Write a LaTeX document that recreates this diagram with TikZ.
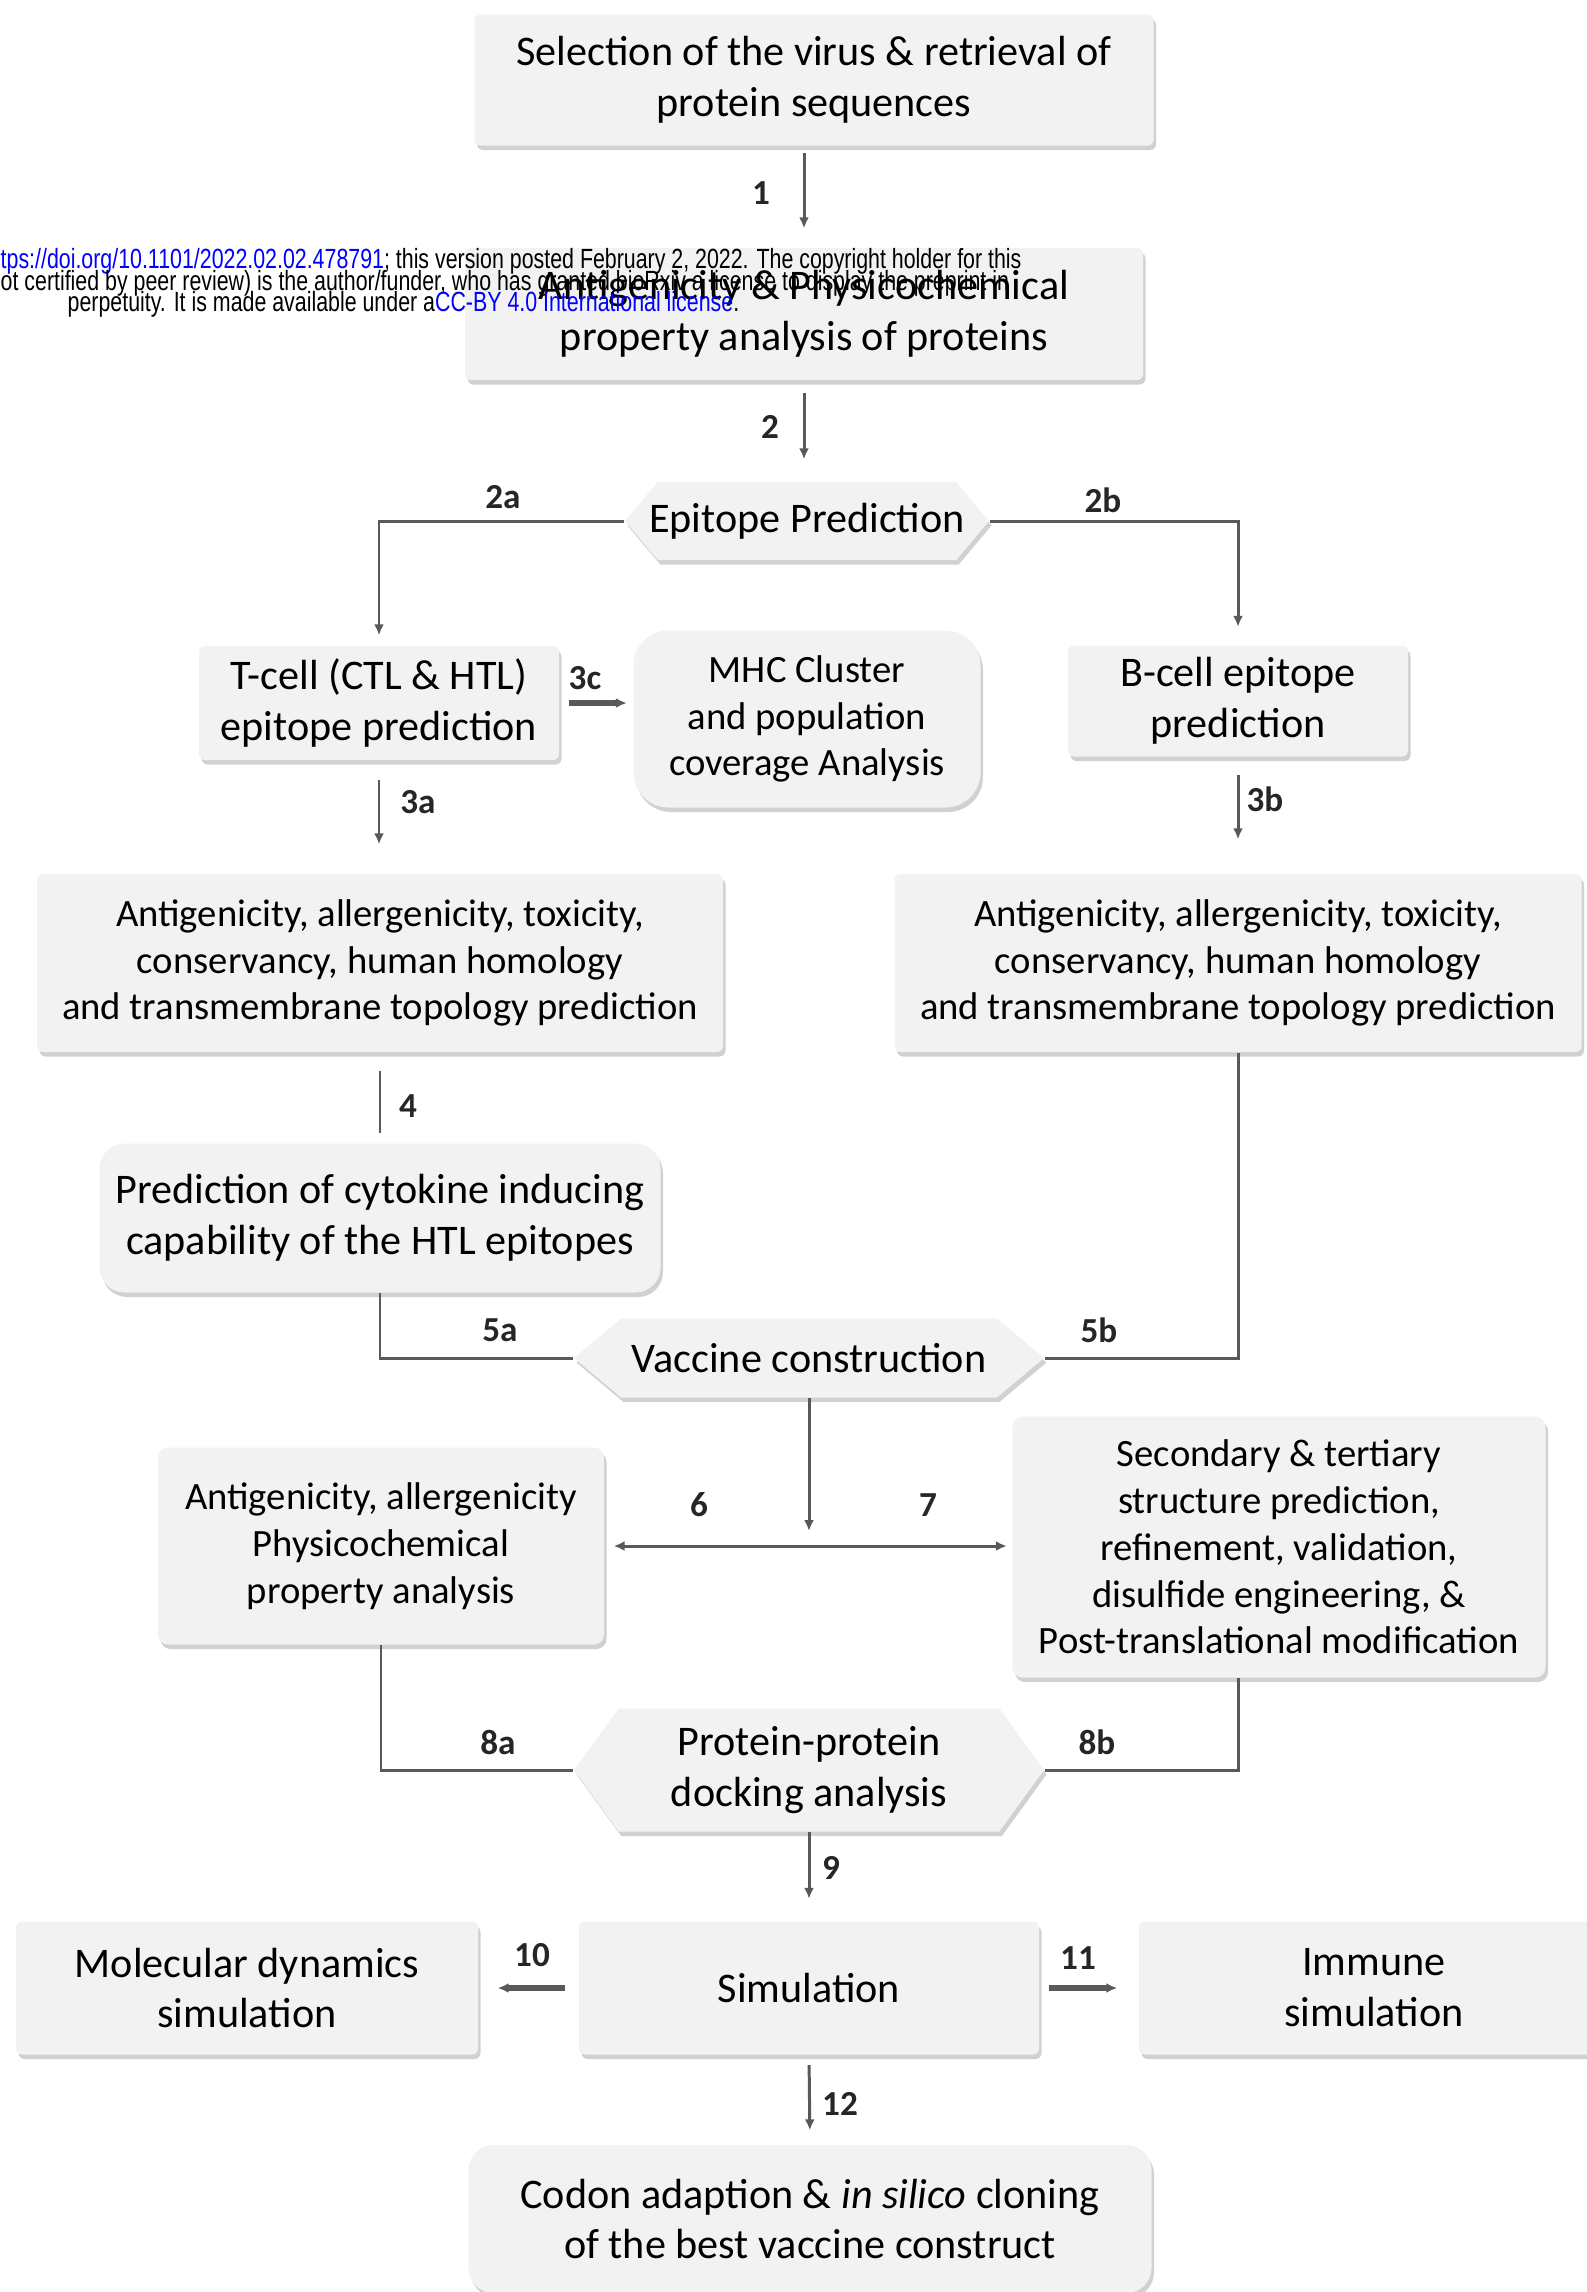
\documentclass[tikz,border=0pt]{standalone}
\usepackage{fontspec}
\setmainfont{Carlito}
\newfontfamily\stampfont{Liberation Sans}
\usetikzlibrary{arrows.meta,shapes.symbols,shadows,positioning}
\definecolor{boxgray}{HTML}{F2F2F2}
\definecolor{linegray}{HTML}{595959}
\definecolor{linkblue}{HTML}{0000FF}

\begin{document}
\begin{tikzpicture}[
    % GLOBAL CFG
    x=0.1mm, y=-0.1mm,
    font=\fontsize{12}{14.5}\selectfont,
    >={Latex[length=1.1mm,width=1mm]},
    % Styles
    stepbox/.style={% grey process box
        rectangle,
        rounded corners=0.6mm,
        fill=boxgray,
        align=center,
        inner sep=0pt,
        drop shadow={shadow xshift=0.25mm, shadow yshift=-0.45mm, fill=black, opacity=0.18},
        },
    roundbox/.style={% box with big corners
        stepbox,
        rounded corners=3mm,
        },
    hexbox/.style={% hexagon for the joining steps
        signal,
        signal to=west and east,
        fill=boxgray,
        align=center,
        inner sep=0pt,
        drop shadow={shadow xshift=0.25mm, shadow yshift=-0.45mm, fill=black, opacity=0.18},
        },
    tight/.style={font=\fontsize{11}{13.3}\selectfont},
    num/.style={% step numbers
        font=\fontsize{10}{12}\selectfont\bfseries,
        text=black!85,
        inner sep=0pt,
        },
    flow/.style={linegray, line width=0.85pt},
    fat/.style={linegray, line width=1.7pt},
    stamp/.style={font=\stampfont\fontsize{6.08}{6}\selectfont, inner sep=0pt},
    ]

\useasboundingbox (0,0) rectangle (1587,2292);

    % Draw the steps
    \node [stepbox, minimum width=67.9mm, minimum height=13.1mm] (sel) at (814,80) {Selection of the virus \& retrieval of\\protein sequences};
    \node [stepbox, minimum width=67.8mm, minimum height=13.2mm] (anti1) at (804,314) {Antigenicity \& Physicochemical\\property analysis of proteins};
    \node [hexbox, signal pointer angle=100, inner xsep=-0.9mm, minimum width=36.4mm, minimum height=7.8mm] (epi) at (807,521) {Epitope Prediction};

    \node [stepbox, minimum width=36mm, minimum height=11.4mm] (tcell) at (379,703) {T-cell (CTL \& HTL)\\epitope prediction};
    \node [roundbox, tight, rounded corners=3.5mm, minimum width=34.7mm, minimum height=17.7mm] (mhc) at (807,719) {MHC Cluster\\and population\\coverage Analysis};
    \node [stepbox, minimum width=34mm, minimum height=11.1mm] (bcell) at (1238,701) {B-cell epitope\\prediction};

    \node [stepbox, tight, minimum width=68.6mm, minimum height=17.8mm] (antiT) at (380,963) {Antigenicity, allergenicity, toxicity,\\conservancy, human homology\\and transmembrane topology prediction};
    \node [stepbox, tight, minimum width=68.7mm, minimum height=17.8mm] (antiB) at (1238,963) {Antigenicity, allergenicity, toxicity,\\conservancy, human homology\\and transmembrane topology prediction};
    \node [roundbox, rounded corners=2.5mm, minimum width=56.1mm, minimum height=14.9mm] (cyto) at (380,1218) {Prediction of cytokine inducing\\capability of the HTL epitopes};

    \node [hexbox, signal pointer angle=80, minimum width=47mm, minimum height=7.9mm] (vacc) at (809,1358) {Vaccine construction};

    \node [stepbox, tight, rounded corners=1mm, minimum width=44.6mm, minimum height=19.7mm] (phys) at (381,1546) {Antigenicity, allergenicity\\Physicochemical\\property analysis};
    \node [stepbox, tight, rounded corners=1mm, minimum width=53.3mm, minimum height=26.1mm] (struct) at (1279,1547) {Secondary \& tertiary\\structure prediction,\\refinement, validation,\\disulfide engineering, \&\\Post-translational modification};

    \node [hexbox, signal pointer angle=108, minimum width=47mm, minimum height=12.3mm] (dock) at (809,1770) {Protein-protein\\docking analysis};

    \node [stepbox, minimum width=46.2mm, minimum height=13.3mm] (md) at (247,1988) {Molecular dynamics\\simulation};
    \node [stepbox, minimum width=46mm, minimum height=13.3mm] (sim) at (809,1988) {Simulation};
    \node [stepbox, minimum width=47mm, minimum height=13.3mm] (imm) at (1374,1988) {Immune\\simulation};

    \node [roundbox, rounded corners=2.5mm, minimum width=68.3mm, minimum height=14.8mm] (codon) at (810,2219) {Codon adaption \& \textit{in silico} cloning\\of the best vaccine construct};

    % Connect the steps
    \draw [->, flow, shorten <=0.7mm, shorten >=1.9mm] (sel.south -| anti1.north) -- (anti1.north);
    \draw [->, flow, shorten <=1.2mm, shorten >=2.2mm] (anti1.south) -- (anti1.south |- epi.north);
    \draw [->, flow, shorten >=1mm] (epi.west) -| (tcell.north); % to T-cell
    \draw [->, flow, shorten >=1.8mm] (epi.east) -| (bcell.north); % to B-cell
    \draw [->, fat, shorten <=0.9mm, shorten >=0.6mm] (tcell.east) -- (tcell.east -| mhc.west);
    \draw [->, flow, shorten <=1.9mm, shorten >=2.9mm] (tcell.south) -- (tcell.south |- antiT.north);
    \draw [->, flow, shorten <=1.8mm, shorten >=3.4mm] (bcell.south) -- (bcell.south |- antiB.north);
    \draw [flow, shorten <=1.8mm, shorten >=1mm] (antiT.south) -- (antiT.south |- cyto.north);

    % into and out of the vaccine
    \draw [flow] (cyto.south) |- (vacc.west);
    \draw [flow] (antiB.south) |- (vacc.east);
    \coordinate (split) at (vacc.south |- phys.east);
    \draw [->, flow, shorten >=1.5mm] (vacc.south) -- (split);
    \draw [<->, flow, shorten <=0.9mm, shorten >=0.5mm] (phys.east) -- (phys.east -| struct.west);

    % docking and simulation
    \draw [flow] (phys.south) |- (dock.west);
    \draw [flow] (struct.south -| antiB.south) |- (dock.east);
    \draw [->, flow, shorten >=2.2mm] (dock.south) -- (dock.south |- sim.north);
    \draw [->, fat, shorten <=1.3mm, shorten >=1.9mm] (sim.west) -- (md.east);
    \draw [->, fat, shorten <=0.9mm, shorten >=2.1mm] (sim.east) -- (imm.west);
    \draw [->, flow, shorten <=1mm, shorten >=1.4mm] (sim.south) -- (codon.north);

    % Step numbers
    \node [num] (l1) at (761,193) {1};
    \node [num] (l2) at (770,427) {2};
    \node [num] (l2a) at (503,497) {2a};
    \node [num] (l2b) at (1103,500) {2b};
    \node [num] (l3c) at (585,678) {3c};
    \node [num] (l3a) at (418,802) {3a};
    \node [num] (l3b) at (1265,799) {3b};
    \node [num] (l4) at (408,1106) {4};
    \node [num] (l5a) at (500,1330) {5a};
    \node [num] (l5b) at (1099,1330) {5b};
    \node [num] (l6) at (699,1505) {6};
    \node [num] (l7) at (928,1505) {7};
    \node [num] (l8a) at (498,1742) {8a};
    \node [num] (l8b) at (1097,1742) {8b};
    \node [num] (l9) at (831,1868) {9};
    \node [num] (l10) at (532,1955) {10};
    \node [num] (l11) at (1078,1958) {11};
    \node [num] (l12) at (840,2104) {12};

    % preprint stamp over the second box
    \node [stamp, anchor=base west] (doi1) at (0,268) {\scalebox{1}[1.3]{\textcolor{linkblue}{tps://doi.org/10.1101/2022.02.02.478791}; this version posted February 2, 2022. The copyright holder for this}};
    \node [stamp, anchor=base west] (doi2) at (0,290) {\scalebox{1}[1.3]{ot certified by peer review) is the author/funder, who has granted bioRxiv a license to display the preprint in}};
    \node [stamp, anchor=base west] (doi3) at (67,311) {\scalebox{1}[1.3]{perpetuity. It is made available under a\textcolor{linkblue}{CC-BY 4.0 International license}.}};

\end{tikzpicture}
\end{document}
